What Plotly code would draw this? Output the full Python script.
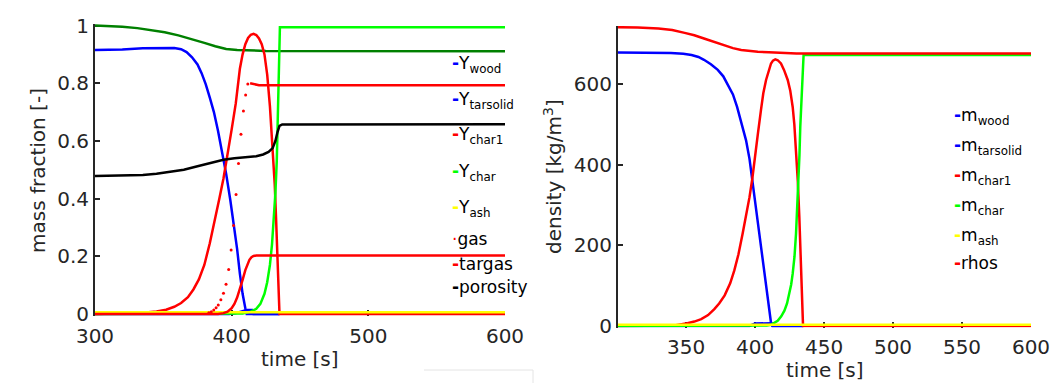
import plotly.graph_objects as go

# ---------------- left panel: mass fractions ----------------
t_solid = [300, 310, 320, 331, 341, 351, 361, 371, 380, 388, 396, 404, 414, 425, 600]
y_solid = [1.000, 0.999, 0.996, 0.991, 0.985, 0.977, 0.966, 0.953, 0.940, 0.928, 0.919, 0.915, 0.913, 0.912, 0.911]

t_wood = [300, 310, 320, 335, 350, 358, 363, 367, 371, 375, 378, 381, 384, 387, 390, 393, 396,
          399, 402, 404, 406, 408, 410, 411, 435]
y_wood = [0.915, 0.915, 0.917, 0.921, 0.923, 0.922, 0.918, 0.908, 0.890, 0.865, 0.835, 0.797, 0.750,
          0.700, 0.635, 0.565, 0.485, 0.395, 0.298, 0.225, 0.140, 0.070, 0.020, 0.0, 0.0]

t_tarsolid = [300, 398, 403, 406, 409, 411, 415, 416, 435]
y_tarsolid = [0.0, 0.0, 0.003, 0.008, 0.013, 0.014, 0.014, 0.0, 0.0]

t_char1 = [300, 320, 335, 345, 352, 358, 363, 368, 372, 376, 380, 384, 388, 391, 394, 397, 400,
           403, 406, 408, 410, 412, 414, 416, 418, 420, 422, 424, 426, 428, 430, 431.5, 432.5,
           433.5, 434.3, 435, 600]
y_char1 = [0.0, 0.001, 0.004, 0.009, 0.015, 0.025, 0.038, 0.058, 0.085, 0.120, 0.170, 0.245, 0.330,
           0.400, 0.470, 0.550, 0.640, 0.730, 0.850, 0.900, 0.935, 0.957, 0.968, 0.971, 0.967, 0.955,
           0.935, 0.900, 0.830, 0.720, 0.580, 0.450, 0.330, 0.180, 0.070, 0.0, 0.0]

t_char = [300, 400, 408, 414, 418, 421, 424, 426, 428, 429.5, 431, 432, 433, 434, 434.8, 435.3, 600]
y_char = [0.0, 0.0, 0.002, 0.008, 0.018, 0.035, 0.070, 0.110, 0.170, 0.240, 0.330, 0.420, 0.530,
          0.700, 0.880, 0.994, 0.994]

t_ash = [300, 600]
y_ash = [0.006, 0.006]

t_gas = [383.3, 385.1, 386.9, 388.6, 390.2, 392.1, 394.0, 395.9, 397.8, 399.6, 401.4, 403.2,
         405.0, 406.8, 408.6, 410.2, 411.8]
y_gas = [0.004, 0.008, 0.014, 0.022, 0.031, 0.049, 0.072, 0.103, 0.154, 0.222, 0.307, 0.414,
         0.522, 0.623, 0.704, 0.759, 0.797]
t_gas_end = [413.5, 416, 420, 600]
y_gas_end = [0.800, 0.797, 0.793, 0.793]

t_targas = [300, 390, 394, 397, 400, 402, 404, 406, 408, 410, 411.5, 413, 414.5, 416, 418, 600]
y_targas = [0.0, 0.0, 0.003, 0.008, 0.020, 0.035, 0.057, 0.085, 0.118, 0.152, 0.173, 0.188, 0.197,
            0.201, 0.203, 0.203]

t_por = [300, 320, 335, 345, 355, 365, 375, 385, 394, 402, 410, 418, 423, 427, 430, 432, 433.5,
         435, 437, 600]
y_por = [0.478, 0.479, 0.482, 0.486, 0.492, 0.500, 0.512, 0.525, 0.535, 0.540, 0.543, 0.547, 0.553,
         0.562, 0.575, 0.600, 0.630, 0.652, 0.657, 0.658]

# ---------------- right panel: densities ----------------
t_rhos = [300.7, 315, 330, 340, 349, 356, 363, 370, 378, 384, 390, 396, 402, 410, 418, 430, 600]
m_rhos = [742, 741.5, 739, 735, 728, 722, 714, 706, 698, 690, 685.5, 683, 681, 679.5, 678.5, 677, 677]

t_mwood = [300.7, 330, 339, 348, 354, 359, 363, 368, 373, 377, 380, 384, 387, 390, 393.5, 396,
           398.3, 401, 403, 405, 407, 409, 410.4, 411.5, 412.5, 435]
m_wood = [679, 679, 678, 676, 673, 668, 661, 650, 636, 620, 602, 575, 544, 508, 461, 415, 354, 290,
          229, 178, 130, 75, 30, 10, 0, 0]

t_mtarsolid = [300.7, 396, 400, 412, 413, 435]
m_tarsolid = [0, 0, 6, 7, 0, 0]

t_mchar1 = [300.7, 330, 341.5, 351, 356, 361, 366, 370.5, 374, 378, 382, 385, 388, 391, 393.5, 396,
            398, 399.5, 402, 404.3, 406, 408, 410, 411.6, 413, 414.7, 416.5, 418.8, 421, 423.7,
            425.5, 427.3, 428.5, 429.7, 431, 432.1, 433, 433.8, 434.8, 600]
m_char1 = [0, 0, 1, 7, 11, 17, 27, 42, 56, 76, 106, 138, 178, 229, 272, 320, 365, 412, 475, 536, 578,
           611, 637, 652, 659, 662, 660, 652, 636, 611, 585, 544, 500, 437, 360, 271, 180, 80, 0, 0]

t_mchar = [300.7, 405, 408.5, 411.6, 414, 416.4, 419, 421.3, 423.2, 424.9, 426.2, 427.3, 428.6,
           429.7, 430.6, 431.4, 432.2, 432.8, 433.5, 434, 434.6, 435.2, 600]
m_char = [0, 0, 1, 3, 7, 13, 24, 38, 56, 80, 103, 130, 172, 229, 290, 354, 425, 495, 560, 611, 650,
          673, 673]

t_mash = [300.7, 600]
m_ash = [3, 3]

# ---------------- ticks ----------------
left_xticks = [300, 400, 500, 600]
left_yticks = [0, 0.2, 0.4, 0.6, 0.8, 1]
left_yticktext = ["0", "0.2", "0.4", "0.6", "0.8", "1"]
right_xticks = [350, 400, 450, 500, 550, 600]
right_yticks = [0, 200, 400, 600]

BLUE, RED, GREEN, DKGREEN, YELLOW, BLACK = "#0000ff", "#ff0000", "#00ff00", "#008000", "#ffff00", "#000000"
AXC = "#262626"
FONT = "DejaVu Sans"
LW = 2.5

fig = go.Figure()


def line(t, v, color, xa="x", ya="y"):
    fig.add_trace(go.Scatter(x=t, y=v, mode="lines", line=dict(color=color, width=LW),
                             xaxis=xa, yaxis=ya, showlegend=False, hoverinfo="skip"))


line(t_solid, y_solid, DKGREEN)
line(t_wood, y_wood, BLUE)
line(t_tarsolid, y_tarsolid, BLUE)
line(t_char1, y_char1, RED)
line(t_char, y_char, GREEN)
line(t_ash, y_ash, YELLOW)
fig.add_trace(go.Scatter(x=t_gas, y=y_gas, mode="markers", marker=dict(color=RED, size=3),
                         showlegend=False, hoverinfo="skip"))
line(t_gas_end, y_gas_end, RED)
line(t_targas, y_targas, RED)
line(t_por, y_por, BLACK)

line(t_mwood, m_wood, BLUE, "x2", "y2")
line(t_mtarsolid, m_tarsolid, BLUE, "x2", "y2")
line(t_mchar1, m_char1, RED, "x2", "y2")
line(t_mchar, m_char, GREEN, "x2", "y2")
line(t_mash, m_ash, YELLOW, "x2", "y2")
line(t_rhos, m_rhos, RED, "x2", "y2")

W, H = 1052, 383


def px(xp):
    return xp / W


def py(yp):
    return (H - yp) / H


tick_font = dict(family=FONT, size=20, color=AXC)
common = dict(showgrid=False, zeroline=False, ticks="inside", tickcolor=AXC, tickwidth=1.5,
              tickfont=tick_font, layer="below traces", automargin=False)

fig.update_layout(
    width=W, height=H, margin=dict(l=0, r=0, t=0, b=0, pad=0, autoexpand=False),
    paper_bgcolor="white", plot_bgcolor="white", showlegend=False,
    font=dict(family=FONT, color=AXC),
    xaxis=dict(domain=[px(95), px(505)], range=[300, 600], tickvals=left_xticks,
               showline=False, ticklen=6, ticklabelstandoff=6, anchor="y", **common),
    yaxis=dict(domain=[py(316.3), py(23.8)], range=[-0.008, 1.006], tickvals=left_yticks,
               ticktext=left_yticktext, showline=True, linecolor=AXC, linewidth=2,
               ticklen=5, anchor="x", **common),
    xaxis2=dict(domain=[px(618), px(1031)], range=[300.7, 600], tickvals=right_xticks,
                showline=False, ticklen=6, ticklabelstandoff=5, anchor="y2", **common),
    yaxis2=dict(domain=[py(327.6), py(26)], range=[-4, 745], tickvals=right_yticks,
                showline=True, linecolor=AXC, linewidth=2, ticklen=5, anchor="x2", **common),
)

ann = []
title_font = dict(family=FONT, size=20, color=AXC)
ann.append(dict(text="time [s]", x=px(300), y=py(359), xref="paper", yref="paper",
                showarrow=False, font=title_font, xanchor="center", yanchor="middle"))
ann.append(dict(text="time [s]", x=px(824.5), y=py(370), xref="paper", yref="paper",
                showarrow=False, font=title_font, xanchor="center", yanchor="middle"))
ann.append(dict(text="mass fraction [-]", x=px(38), y=py(170), xref="paper", yref="paper",
                showarrow=False, font=title_font, textangle=-90, xanchor="center", yanchor="middle"))
ann.append(dict(text="density [kg/m<sup>3</sup>]", x=px(553), y=py(177), xref="paper", yref="paper",
                showarrow=False, font=title_font, textangle=-90, xanchor="center", yanchor="middle"))

leg_font = dict(family=FONT, size=17, color="#000000")


def entry(x, y, color, label, dot=False):
    mark = "·" if dot else "<b>-</b>"
    ann.append(dict(text=f"<span style='color:{color}'>{mark}</span>{label}",
                    x=px(x), y=py(y), xref="paper", yref="paper", showarrow=False,
                    font=leg_font, xanchor="left", yanchor="middle", borderpad=0))


left_legend = [
    (64.7, BLUE, "Y<sub>wood</sub>", False),
    (100.7, BLUE, "Y<sub>tarsolid</sub>", False),
    (135.7, RED, "Y<sub>char1</sub>", False),
    (172, GREEN, "Y<sub>char</sub>", False),
    (208, YELLOW, "Y<sub>ash</sub>", False),
    (239, RED, "gas", True),
    (264, RED, "targas", False),
    (287, BLACK, "porosity", False),
]
for yy, c, lab, d in left_legend:
    entry(451, yy, c, lab, d)

right_legend = [
    (117, BLUE, "m<sub>wood</sub>"),
    (146, BLUE, "m<sub>tarsolid</sub>"),
    (176, RED, "m<sub>char1</sub>"),
    (206, GREEN, "m<sub>char</sub>"),
    (236, YELLOW, "m<sub>ash</sub>"),
    (263, RED, "rhos"),
]
for yy, c, lab in right_legend:
    entry(953, yy, c, lab)

fig.update_layout(annotations=ann)

# faint frame remnant below the left panel
fig.add_shape(type="line", xref="paper", yref="paper", x0=px(424), x1=px(533), y0=py(370), y1=py(370),
              line=dict(color="#e4e4e4", width=1))
fig.add_shape(type="line", xref="paper", yref="paper", x0=px(533), x1=px(533), y0=py(370), y1=py(383),
              line=dict(color="#e4e4e4", width=1))

fig.write_html("out.html")
